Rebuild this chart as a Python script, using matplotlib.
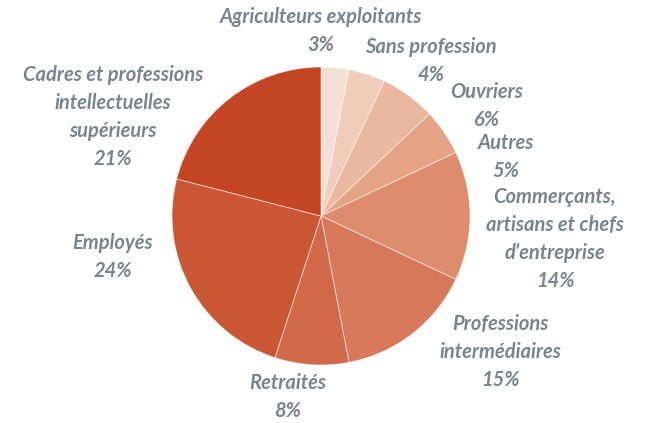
import matplotlib
matplotlib.use("Agg")
import matplotlib.pyplot as plt

# data, read clockwise from 12 o'clock
labels = ["Agriculteurs exploitants", "Sans profession", "Ouvriers", "Autres",
          "Commerçants,\nartisans et chefs\nd\u2019entreprise", "Professions\nintermédiaires",
          "Retraités", "Employés", "Cadres et professions\nintellectuelles\nsupérieurs"]
shares = [3, 4, 6, 5, 14, 15, 8, 24, 21]
colors = ["#F5E0D7", "#F0CCBB", "#EAB89F", "#E4A385", "#DE8C6E",
          "#D77A5B", "#D2694A", "#C95734", "#C34524"]
# label centres in pixel coords (x, y from top)
label_pos = [(321, 31), (431, 61), (487, 106), (506, 157), (555, 239),
             (500, 352), (288, 397), (113, 257), (113, 117)]

W, H = 645, 423
fig = plt.figure(figsize=(W / 100, H / 100), dpi=100)
ax = fig.add_axes([0, 0, 1, 1])
ax.set_xlim(0, W)
ax.set_ylim(0, H)
ax.set_aspect("equal")
ax.axis("off")

ax.pie(shares, colors=colors, startangle=90, counterclock=False,
       center=(321, H - 216), radius=149,
       wedgeprops=dict(edgecolor=(1, 1, 1, 0.6), linewidth=0.6))
ax.set_xlim(0, W)
ax.set_ylim(0, H)

for lab, v, (x, y) in zip(labels, shares, label_pos):
    ax.text(x, H - y, "{}\n{}%".format(lab, v), ha="center", va="center",
            fontsize=14.5, fontweight="bold", fontstyle="italic",
            family=["Lato", "DejaVu Sans"], color="#77858F", linespacing=1.48)

fig.savefig("out.png", dpi=100)
